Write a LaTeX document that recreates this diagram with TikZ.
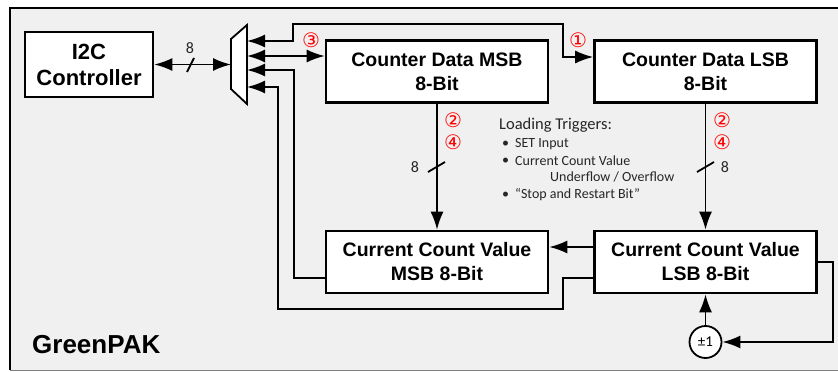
\documentclass[tikz,border=0pt]{standalone}
\usepackage{fontspec}
\setmainfont{Liberation Sans}
\newfontfamily\calibri{Carlito}
\newfontfamily\symb{DejaVu Sans}
\usetikzlibrary{arrows.meta}
\definecolor{panelgray}{RGB}{240,240,240}
\begin{document}
\begin{tikzpicture}[x=1pt,y=-1pt,
  blockbox/.style={draw=black,line width=2.6pt,fill=white,minimum width=222pt,minimum height=62pt,
    align=center,inner sep=0pt,font=\fontsize{19.5}{24}\selectfont\bfseries},
  wire/.style={line width=1.8pt},
  arr/.style={-{Latex[length=18pt,width=13pt]}},
  both/.style={{Latex[length=18pt,width=13pt]}-{Latex[length=18pt,width=13pt]}},
  circnum/.style={color=red,font=\symb\fontsize{20}{20}\selectfont,inner sep=0pt},
  buslbl/.style={font=\calibri\fontsize{16}{16}\selectfont,text=black!85},
  trigtxt/.style={anchor=west,inner sep=0pt,font=\calibri\fontsize{14}{14}\selectfont,text=black!85}]
\useasboundingbox (0,0) rectangle (838,372);
% frame
\fill[panelgray] (10,8) rectangle (838,370);
\draw[line width=2pt] (850,8) -- (10,8) -- (10,370);
\draw[color=gray] (10,370) -- (838,370);
\node[anchor=west,inner sep=0pt,font=\fontsize{26}{26}\selectfont\bfseries] (gp) at (32,345) {GreenPAK};
% blocks
\node[blockbox,minimum width=128pt,minimum height=65pt,font=\fontsize{22}{26}\selectfont\bfseries] (i2c) at (89,64.5) {I2C\\Controller};
\node[blockbox] (cdmsb) at (437,71.5) {Counter Data MSB\\8-Bit};
\node[blockbox] (cdlsb) at (705.5,71.5) {Counter Data LSB\\8-Bit};
\node[blockbox] (ccmsb) at (437,262) {Current Count Value\\MSB 8-Bit};
\node[blockbox] (cclsb) at (705.5,262) {Current Count Value\\LSB 8-Bit};
\node[draw,circle,line width=1.8pt,fill=white,minimum size=32pt,inner sep=0pt,
  font=\calibri\fontsize{15}{15}\selectfont] (pm) at (705.5,342) {±1};
% mux
\draw[wire,fill=white] (231,39) -- (247,25) -- (247,104) -- (231,89) -- cycle;
\coordinate (muxl) at (231,64.5);
\coordinate (muxa) at (247,41);
\coordinate (muxb) at (247,56);
\coordinate (muxc) at (247,70);
\coordinate (muxd) at (247,87);
% connectors
\draw[wire,both] (i2c.east) -- (muxl);
\draw[wire] (187,72) -- (194,58);
\node[buslbl] (w0) at (190,48) {8};
\draw[wire,both] (muxa) -| (293,24) -| (563,57) -- (cdlsb.west |- 0,57);
\draw[wire,both] (muxb) -- (cdmsb.west |- muxb);
\draw[wire,arr] (ccmsb.west |- 0,278) -| (294,70) -- (muxc);
\draw[wire,arr] (cclsb.west |- 0,278) -| (563,309) -| (278,87) -- (muxd);
\draw[wire,arr] (cdmsb) -- (ccmsb);
\draw[wire] (428,172) -- (445,162);
\node[buslbl] (w1) at (415,167) {8};
\draw[wire,arr] (cdlsb) -- (cclsb);
\draw[wire] (697,172) -- (714,162);
\node[buslbl] (w2) at (725,167) {8};
\draw[wire,arr] (cclsb.west |- 0,247) -- (ccmsb.east |- 0,247);
\draw[wire,arr] (pm) -- (cclsb);
\draw[wire,arr] (cclsb.east) -| (833,342) -- (pm);
% step numbers
\node[circnum] (n3) at (311,40) {③};
\node[circnum] (n1) at (578,40) {①};
\node[circnum] (n2a) at (453,120) {②};
\node[circnum] (n4a) at (453,142) {④};
\node[circnum] (n2b) at (722,120) {②};
\node[circnum] (n4b) at (722,142) {④};
% triggers
\node[trigtxt,font=\calibri\fontsize{16.5}{16.5}\selectfont] (trig) at (499,125) {Loading Triggers:};
\node[trigtxt] (b1) at (502,144) {•};
\node[trigtxt] (t1) at (515,144) {SET Input};
\node[trigtxt] (b2) at (502,161) {•};
\node[trigtxt] (t2) at (515,161) {Current Count Value};
\node[trigtxt] (t3) at (550,177) {Underflow / Overflow};
\node[trigtxt] (b4) at (502,195) {•};
\node[trigtxt] (t4) at (515,195) {“Stop and Restart Bit”};
\end{tikzpicture}
\end{document}
